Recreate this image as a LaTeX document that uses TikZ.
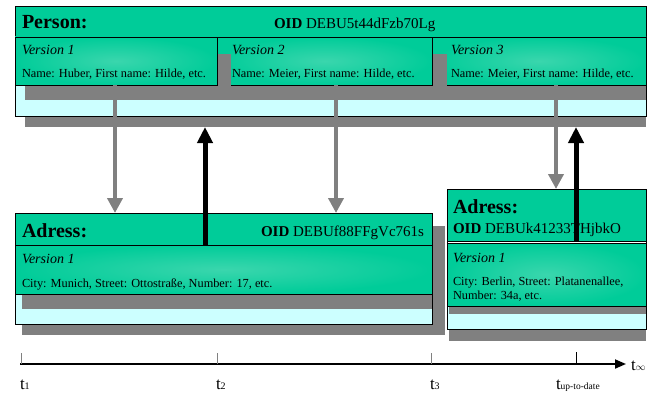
\documentclass[tikz,border=0pt]{standalone}
\usepackage{fontspec}
\setmainfont{Liberation Serif}
\usetikzlibrary{arrows.meta}
\definecolor{tgreen}{RGB}{0,204,153}
\definecolor{vlight}{RGB}{58,214,173}
\definecolor{lcyan}{RGB}{204,255,255}
\definecolor{shgray}{RGB}{128,128,128}
\tikzset{
  box/.style={rectangle, anchor=north west, inner sep=0pt, outer sep=0pt},
  shadowbox/.style={box, fill=shgray, draw=none},
  outerbox/.style={box, fill=lcyan, draw=black, line width=0.9pt},
  titleband/.style={box, fill=tgreen, draw=black, line width=0.9pt},
  verbox/.style={box, draw=black, line width=0.9pt, inner color=vlight, outer color=tgreen},
  txt/.style={anchor=base west, inner sep=0pt, outer sep=0pt},
  bigtitle/.style={txt, font=\fontsize{20}{22}\selectfont\bfseries},
  oidtxt/.style={txt, font=\fontsize{15}{17}\selectfont},
  vertxt/.style={txt, font=\fontsize{14}{16}\selectfont\itshape},
  smalltxt/.style={txt, font=\fontsize{12.3}{14}\selectfont},
  grayarrow/.style={draw=shgray, line width=4pt, -{Triangle[width=15pt,length=15pt]}},
  blackarrow/.style={draw=black, line width=5pt, -{Triangle[width=15pt,length=16pt]}},
  tlabel/.style={txt, font=\fontsize{17}{18}\selectfont},
}
\begin{document}
\begin{tikzpicture}[x=1pt,y=-1pt]
\useasboundingbox (0,0) rectangle (668,409);

% ---------------- Person ----------------
\node[shadowbox, minimum width=621pt, minimum height=11pt] (pshadow) at (25,116) {};
\node[outerbox, minimum width=631pt, minimum height=110pt] (person) at (15,6) {};
\node[titleband, minimum width=631pt, minimum height=31pt] (ptitle) at (15,6) {};
\node[shadowbox, minimum width=200pt, minimum height=46pt] (v3shadow) at (446,54) {};
\node[verbox, minimum width=214pt, minimum height=48pt] (v3) at (432,37) {};
\node[shadowbox, minimum width=216pt, minimum height=46pt] (v2shadow) at (231,54) {};
\node[verbox, minimum width=215pt, minimum height=48pt] (v2) at (217,37) {};
\node[shadowbox, minimum width=206pt, minimum height=46pt] (v1shadow) at (25,54) {};
\node[verbox, minimum width=202pt, minimum height=48pt] (v1) at (15,37) {};

\node[bigtitle] (ptext) at (22,29) {Person:};
\node[oidtxt] (poid) at (274,28.5) {\textbf{OID} DEBU5t44dFzb70Lg};
\node[vertxt] (v1t) at (22,55) {Version 1};
\node[smalltxt] (v1n) at (22,78) {Name: Huber, First name: Hilde, etc.};
\node[vertxt] (v2t) at (232,55) {Version 2};
\node[smalltxt] (v2n) at (232,78) {Name: Meier, First name: Hilde, etc.};
\node[vertxt] (v3t) at (451,55) {Version 3};
\node[smalltxt] (v3n) at (451,78) {Name: Meier, First name: Hilde, etc.};

% ---------------- Adress 1 ----------------
\node[shadowbox, minimum width=423pt, minimum height=109pt] (a1shadow) at (22,226) {};
\node[outerbox, minimum width=417pt, minimum height=111pt] (adr1) at (15,213) {};
\node[shadowbox, minimum width=410pt, minimum height=49pt] (a1vshadow) at (22,260) {};
\node[titleband, minimum width=417pt, minimum height=32pt] (a1title) at (15,213) {};
\node[verbox, minimum width=417pt, minimum height=49pt] (a1v) at (15,245) {};

\node[bigtitle] (a1text) at (22,237) {Adress:};
\node[oidtxt, anchor=base east] (a1oid) at (424,236) {\textbf{OID} DEBUf88FFgVc761s};
\node[vertxt] (a1vt) at (22,263) {Version 1};
\node[smalltxt] (a1c) at (22,287) {City: Munich, Street: Ottostraße, Number: 17, etc.};

% ---------------- Adress 2 ----------------
\node[shadowbox, minimum width=197pt, minimum height=141pt] (a2shadow) at (449,200) {};
\node[outerbox, minimum width=199pt, minimum height=140pt] (adr2) at (447,189) {};
\node[shadowbox, minimum width=197pt, minimum height=54pt] (a2vshadow) at (449,260) {};
\node[titleband, minimum width=199pt, minimum height=52pt] (a2title) at (447,189) {};
\node[box, fill=white, minimum width=198pt, minimum height=2pt] (a2gap) at (447.5,241.5) {};
\node[verbox, minimum width=199pt, minimum height=63pt] (a2v) at (447,243) {};

\node[bigtitle] (a2text) at (453,213) {Adress:};
\node[oidtxt] (a2oid) at (453,233) {\textbf{OID} DEBUk41233THjbkO};
\node[vertxt] (a2vt) at (453,262) {Version 1};
\node[smalltxt] (a2c) at (453,285) {City: Berlin, Street: Platanenallee,};
\node[smalltxt] (a2n) at (453,299.5) {Number: 34a, etc.};

% ---------------- connectors ----------------
\coordinate (g1) at (115,85);
\coordinate (g2) at (336,85);
\coordinate (g3) at (556,85);
\coordinate (b1) at (205,245);
\coordinate (b2) at (576,241);
\draw[grayarrow] (g1) -- (g1 |- adr1.north);
\draw[grayarrow] (g2) -- (g2 |- adr1.north);
\draw[grayarrow] (g3) -- (g3 |- adr2.north);
\draw[blackarrow] (b1) -- (b1 |- pshadow.south);
\draw[blackarrow] (b2) -- (b2 |- pshadow.south);

% ---------------- timeline ----------------
\coordinate (tstart) at (20,364);
\coordinate (tend) at (626,364);
\draw[line width=1.8pt, -{Triangle[width=9pt,length=11pt]}] (tstart) -- (tend);
\coordinate (k1) at (21,364);
\coordinate (k2) at (217,364);
\coordinate (k3) at (431,364);
\coordinate (k4) at (576,364);
\draw[shgray, line width=0.6pt] (k1) -- ++(0,-11);
\draw[shgray, line width=0.6pt] (k2) -- ++(0,-11);
\draw[shgray, line width=0.6pt] (k3) -- ++(0,-11);
\draw[black, line width=0.9pt] (k4) -- ++(0,-12);

\node[tlabel] (l1) at (20,389) {t{\fontsize{10}{10}\selectfont 1}};
\node[tlabel] (l2) at (216,389) {t{\fontsize{10}{10}\selectfont 2}};
\node[tlabel] (l3) at (430,389) {t{\fontsize{10}{10}\selectfont 3}};
\node[tlabel] (l4) at (556,389) {t{\fontsize{9.5}{10}\selectfont up-to-date}};
\node[tlabel] (l5) at (631,370) {t{\fontsize{10}{10}\selectfont$\infty$}};
\end{tikzpicture}
\end{document}
